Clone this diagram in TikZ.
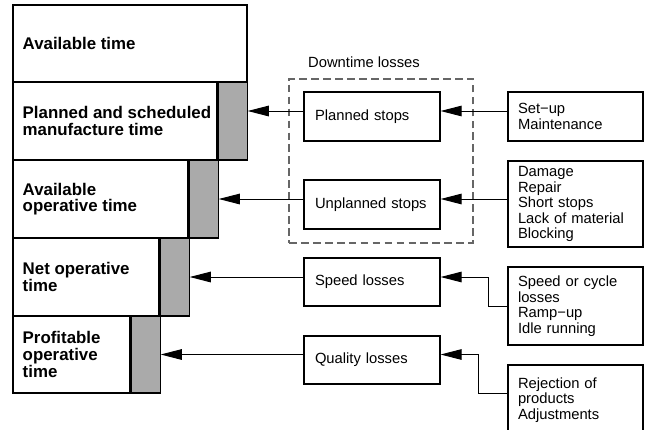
\documentclass[tikz,border=0pt]{standalone}
\usepackage{fontspec}
\setmainfont{Liberation Sans}
\usepackage{xcolor}
\usepackage{tikz}
\usetikzlibrary{arrows.meta, positioning, calc}
\definecolor{bargray}{HTML}{AAAAAA}

\begin{document}
\begin{tikzpicture}[
  every node/.style={font=\fontsize{10.5}{11}\selectfont},
  timebox/.style={rectangle, draw=black, line width=0.8pt, fill=white,
                  inner sep=0pt, minimum height=1.95cm},
  timetext/.style={inner sep=0pt, align=left,
                   font=\fontsize{12}{11.8}\selectfont\bfseries},
  lossbar/.style={rectangle, draw=black, line width=0.8pt, fill=bargray,
                  inner sep=0pt, minimum width=0.725cm, minimum height=1.95cm},
  lossbox/.style={rectangle, draw=black, line width=0.8pt, fill=white,
                  text width=2.85cm, inner xsep=0.275cm, inner ysep=0pt,
                  align=left, minimum height=1.2cm},
  causebox/.style={rectangle, draw=black, line width=0.8pt, fill=white,
                   text width=2.875cm, inner xsep=0.25cm, inner ysep=0pt,
                   align=left},
  groupbox/.style={rectangle, draw=gray!80!black, line width=0.8pt,
                   dash pattern=on 5.5pt off 3pt, inner sep=0pt,
                   minimum width=4.6cm, minimum height=4.1cm},
  feed/.style={-{Triangle[length=15pt, width=7.5pt]}, line width=0.7pt, black}
]
\useasboundingbox (0,0) rectangle (16.15,-10.725);
\clip (0,0) rectangle (16.15,-10.725);

% time categories, each one shorter than the one above
\node[timebox, minimum width=5.85cm, minimum height=1.925cm] (avail) at (3.25,-1.0875) {};
\node[timebox, minimum width=5.1cm] (planned) at (2.875,-3.025) {};
\node[timebox, minimum width=4.375cm] (avop) at (2.5125,-4.975) {};
\node[timebox, minimum width=3.65cm] (netop) at (2.15,-6.925) {};
\node[timebox, minimum width=2.925cm, minimum height=1.925cm] (profit) at (1.7875,-8.8625) {};

\node[lossbar, right=0pt of planned] (plannedbar) {};
\node[lossbar, right=0pt of avop] (avopbar) {};
\node[lossbar, right=0pt of netop] (netopbar) {};
\node[lossbar, right=0pt of profit, minimum height=1.925cm] (profitbar) {};

\node[timetext, right=0.25cm of avail.west] {Available time};
\node[timetext, right=0.25cm of planned.west] {Planned and scheduled\\manufacture time};
\node[timetext, right=0.25cm of avop.west] {Available\\operative time};
\node[timetext, right=0.25cm of netop.west] {Net operative\\time};
\node[timetext, right=0.25cm of profit.west] {Profitable\\operative\\time};

% downtime group
\node[groupbox] (downtime) at (9.525,-4.025) {};
\node (downlabel) at (9.1,-1.55) {Downtime losses};

\node[lossbox, minimum height=1.225cm] (pstops) at (9.3,-2.9125) {Planned stops};
\node[lossbox, minimum height=1.225cm] (ustops) at (9.3,-5.1125) {Unplanned stops};
\node[lossbox] (speed) at (9.3,-7.05) {Speed losses};
\node[lossbox] (quality) at (9.3,-9.0) {Quality losses};

% causes
\node[causebox, minimum height=1.225cm] (setup) at (14.3875,-2.9125) {Set−up\\Maintenance};
\node[causebox, minimum height=2.15cm] (damage) at (14.3875,-5.1) {Damage\\Repair\\Short stops\\Lack of material\\Blocking};
\node[causebox, minimum height=1.95cm] (speedcause) at (14.3875,-7.65) {Speed or cycle\\losses\\Ramp−up\\Idle running};
\node[causebox, minimum height=1.75cm] (reject) at (14.3875,-10.0) {Rejection of\\products\\Adjustments};

\coordinate (row1) at (0,-2.775);
\coordinate (row4) at (0,-9.825);

% losses taken off each time category
\draw[feed] (pstops.west |- row1) -- (plannedbar.east |- row1);
\draw[feed] (ustops.west |- avopbar.east) -- (avopbar.east);
\draw[feed] (speed.west |- netopbar.east) -- (netopbar.east);
\draw[feed] (quality.west |- profitbar.east) -- (profitbar.east);

\draw[feed] (setup.west |- row1) -- (pstops.east |- row1);
\draw[feed] (damage.west |- avopbar.east) -- (ustops.east |- avopbar.east);
\draw[feed] (speedcause.west) -- ++(-0.475,0) |- (speed.east |- netopbar.east);
\draw[feed] (reject.west |- row4) -- ++(-0.725,0) |- (quality.east |- profitbar.east);

\end{tikzpicture}
\end{document}
